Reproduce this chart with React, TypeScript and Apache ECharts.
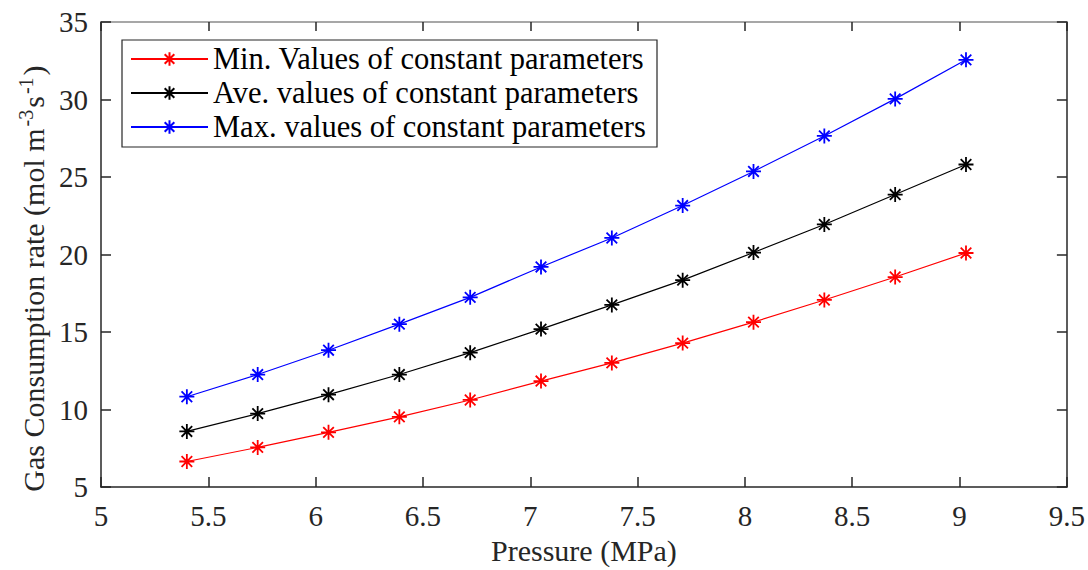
import React, { useEffect, useRef } from "react";
import * as echarts from "echarts";

const pressure = [5.4, 5.73, 6.06, 6.39, 6.72, 7.05, 7.38, 7.71, 8.04, 8.37, 8.7, 9.03];
const minValues = [6.65, 7.56, 8.53, 9.53, 10.62, 11.84, 13.01, 14.29, 15.64, 17.07, 18.55, 20.1];
const aveValues = [8.59, 9.74, 10.96, 12.26, 13.67, 15.19, 16.75, 18.35, 20.13, 21.94, 23.87, 25.81];
const maxValues = [10.83, 12.26, 13.83, 15.51, 17.24, 19.2, 21.07, 23.16, 25.36, 27.65, 30.04, 32.56];
const seriesNames = [
  "Min. Values of constant parameters",
  "Ave. values of constant parameters",
  "Max. values of constant parameters",
];
const seriesColors = ["#ff0000", "#000000", "#0000ff"];

const FONT = "'Liberation Serif', 'Times New Roman', serif";
const AXIS = "#262626";
const STAR =
  "path://M0,-1L0,1M-1,0L1,0M-0.707,-0.707L0.707,0.707M-0.707,0.707L0.707,-0.707";

export default function App() {
  const ref = useRef<HTMLDivElement>(null);
  useEffect(() => {
    if (!ref.current) return;
    const chart = echarts.init(ref.current, undefined, { renderer: "svg" });
    const allSeries = [minValues, aveValues, maxValues];
    const axisCommon = {
      type: "value" as const,
      splitLine: { show: false },
      axisLine: { show: true, onZero: false, lineStyle: { color: AXIS, width: 1.5 } },
      axisTick: { show: true, inside: true, length: 10, lineStyle: { color: AXIS, width: 1.5 } },
    };
    chart.setOption({
      animation: false,
      backgroundColor: "#ffffff",
      grid: { left: 101, right: 21, top: 22, bottom: 80, containLabel: false },
      xAxis: [
        {
          ...axisCommon,
          position: "bottom",
          min: 5,
          max: 9.5,
          interval: 0.5,
          axisLabel: { fontFamily: FONT, fontSize: 29, color: AXIS, margin: 14 },
          name: "Pressure (MPa)",
          nameLocation: "middle",
          nameGap: 45,
          nameTextStyle: { fontFamily: FONT, fontSize: 30, color: AXIS },
        },
        {
          ...axisCommon,
          position: "top",
          min: 5,
          max: 9.5,
          interval: 0.5,
          axisLine: { show: true, onZero: false, lineStyle: { color: "#8a8a8a", width: 1.5 } },
          axisTick: { show: true, inside: true, length: 9, lineStyle: { color: AXIS, width: 1.5 } },
          axisLabel: { show: false },
        },
      ],
      yAxis: [
        {
          ...axisCommon,
          position: "left",
          min: 5,
          max: 35,
          interval: 5,
          axisLabel: { fontFamily: FONT, fontSize: 29, color: AXIS, margin: 13 },
          name: "{a|Gas Consumption rate (mol m}{s|-3}{a|s}{s|-1}{a|)}",
          nameLocation: "middle",
          nameRotate: 90,
          nameGap: 48,
          nameTextStyle: {
            fontFamily: FONT,
            color: AXIS,
            padding: [0, 48, 0, 0],
            rich: {
              a: { fontFamily: FONT, fontSize: 30, color: AXIS, lineHeight: 32, verticalAlign: "bottom" },
              s: { fontFamily: FONT, fontSize: 20, color: AXIS, lineHeight: 32, verticalAlign: "top", padding: [0, 2, 0, 2] },
            },
          },
        },
        {
          ...axisCommon,
          position: "right",
          min: 5,
          max: 35,
          interval: 5,
          axisLabel: { show: false },
        },
      ],
      legend: {
        show: true,
        orient: "vertical",
        left: 130,
        top: 42,
        padding: 0,
        itemGap: 0,
        itemWidth: 77,
        itemHeight: 17,
        data: seriesNames,
        textStyle: { fontFamily: FONT, fontSize: 30.5, color: "#000", lineHeight: 34 },
      },
      graphic: [
        {
          type: "rect",
          shape: { x: 122, y: 40, width: 535, height: 107 },
          style: { fill: "none", stroke: "#262626", lineWidth: 1.2 },
          z: 10,
        },
      ],
      series: allSeries.map((vals, i) => ({
        name: seriesNames[i],
        type: "line",
        data: pressure.map((p, j) => [p, vals[j]]),
        symbol: STAR,
        symbolSize: 15,
        showSymbol: true,
        lineStyle: { color: seriesColors[i], width: 1.2 },
        itemStyle: { color: "transparent", borderColor: seriesColors[i], borderWidth: 1.8 },
        emphasis: { disabled: true },
      })),
    });
    return () => chart.dispose();
  }, []);
  return (
    <div
      ref={ref}
      style={{ position: "fixed", left: 0, top: 0, width: 1088, height: 570, background: "#fff" }}
    />
  );
}
